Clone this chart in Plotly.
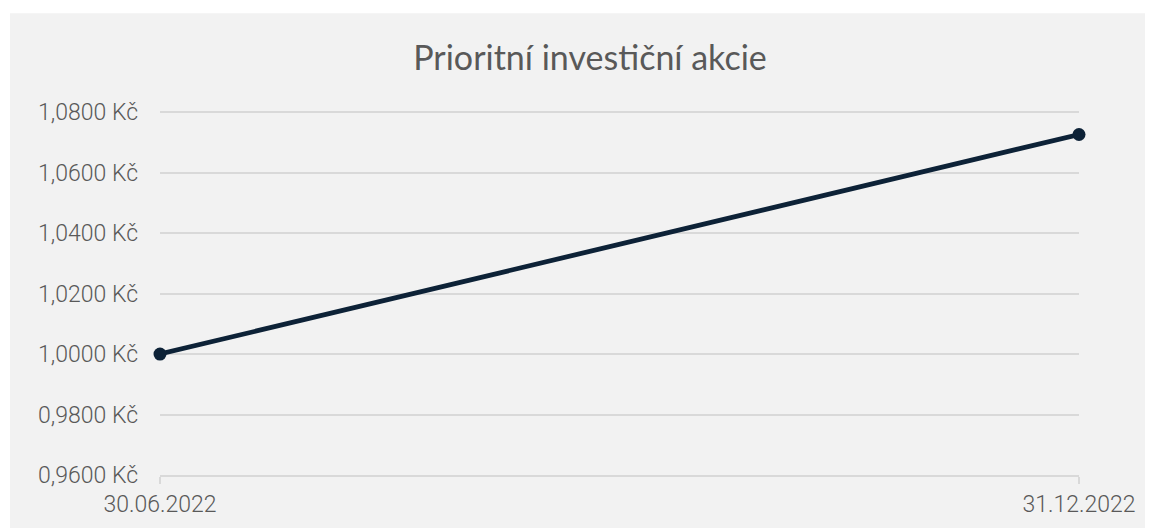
import plotly.graph_objects as go

categories = ["30.06.2022", "31.12.2022"]
values = [1.0000, 1.0726]
y_tickvals = [0.96, 0.98, 1.00, 1.02, 1.04, 1.06, 1.08]
y_ticktext = ["0,9600 Kč", "0,9800 Kč", "1,0000 Kč", "1,0200 Kč", "1,0400 Kč", "1,0600 Kč", "1,0800 Kč"]
title_text = "Prioritní investiční akcie"

OFF = 8  # page body margin
W, H = 1153 - OFF, 528 - OFF
Y_MIN, Y_MAX = 0.96, 1.0807          # small headroom so the 1.08 gridline is drawn
px_per_unit = (475 - 112) / (1.08 - 0.96)
L = 160 - OFF
T = 112 - OFF - (Y_MAX - 1.08) * px_per_unit
R = W - (1079 - OFF)
B = H - (475 - OFF)
pw, ph = W - L - R, H - T - B

fig = go.Figure()
fig.add_trace(go.Scatter(
    x=[0, 1], y=values, mode="lines+markers",
    line=dict(color="#0d2237", width=4.8),
    marker=dict(color="#0d2237", size=13),
    hoverinfo="skip", showlegend=False, cliponaxis=False,
))

# gray chart-area background (pixel positions converted to paper fraction)
fig.add_shape(type="rect", xref="paper", yref="paper", layer="below",
              x0=((10 - OFF) - L) / pw, x1=(W - L) / pw + 0.02,
              y0=-(B + 10) / ph, y1=(T - (13 - OFF)) / ph + 1,
              fillcolor="#f2f2f2", line=dict(width=0))

fig.update_layout(
    width=W, height=H,
    margin=dict(l=L, r=R, t=T, b=B, pad=0),
    paper_bgcolor="white", plot_bgcolor="rgba(0,0,0,0)",
    title=dict(text=title_text, x=(590 - OFF) / W, xanchor="center",
               y=1 - (58 - OFF) / H, yanchor="middle",
               font=dict(family="Lato", size=34, color="#595959")),
    font=dict(family="Roboto", color="#595959"),
)
fig.update_xaxes(
    range=[0, 1], tickvals=[0, 1], ticktext=categories,
    showgrid=False, zeroline=False, automargin=False,
    showline=True, linecolor="#d9d9d9", linewidth=1.5,
    ticks="outside", ticklen=7, tickcolor="#d9d9d9", tickwidth=1.5,
    tickfont=dict(family="Roboto", size=23, color="#595959", weight=300),
    ticklabelstandoff=1,
)
fig.update_yaxes(
    range=[Y_MIN, Y_MAX], tickvals=y_tickvals, ticktext=y_ticktext,
    showgrid=True, gridcolor="#d9d9d9", gridwidth=1.5, zeroline=False,
    showline=False, ticks="", automargin=False,
    tickfont=dict(family="Roboto", size=23, color="#595959", weight=300),
    ticklabelstandoff=21,
)
fig.write_html("out.html")
